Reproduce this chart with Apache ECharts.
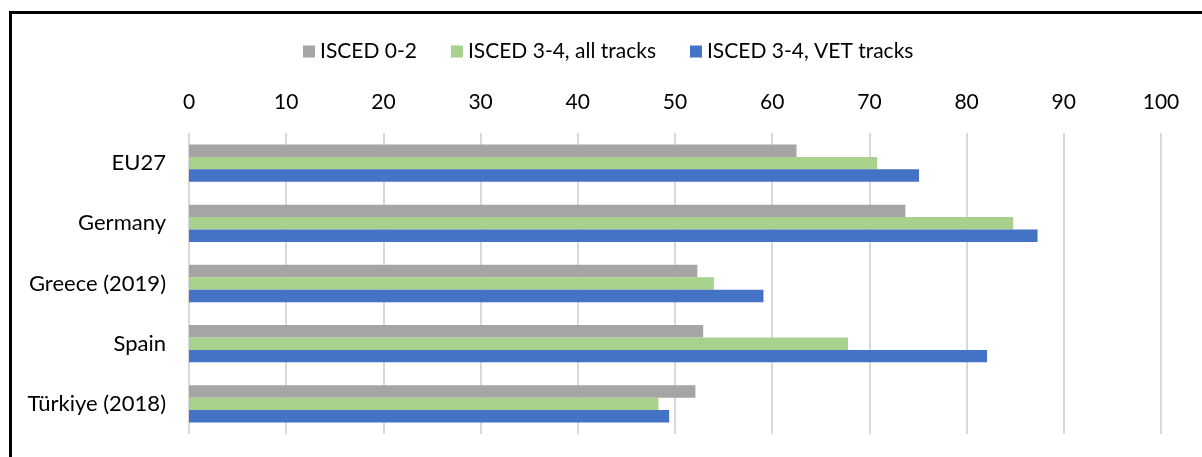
<!DOCTYPE html>
<html lang="en">

<head>
    <meta charset="UTF-8">
    <title>ISCED chart</title>
    <style>
        html, body { margin: 0; padding: 0; background: #fff; }
    </style>
</head>

<body>
    <div id="main" style="width: 1202px;height:457px;"></div>
</body>
<script src="https://cdn.jsdelivr.net/npm/echarts@6/dist/echarts.min.js"></script>

<script>
    var countries = ['EU27', 'Germany', 'Greece (2019)', 'Spain', 'Türkiye (2018)'];
    var isced02 = [62.5, 73.7, 52.3, 52.9, 52.1];
    var isced34All = [70.8, 84.8, 54.0, 67.8, 48.3];
    var isced34Vet = [75.1, 87.3, 59.1, 82.1, 49.4];
    var xTicks = [0, 10, 20, 30, 40, 50, 60, 70, 80, 90, 100];

    var font = 'Lato, "Noto Sans", sans-serif';
    var myChart = echarts.init(document.getElementById('main'));

    function bar(name, data, color) {
        return {
            name: name,
            type: 'bar',
            data: data,
            barGap: '0%',
            barCategoryGap: '38%',
            itemStyle: { color: color },
            animation: false
        };
    }

    myChart.setOption({
        animation: false,
        textStyle: { fontFamily: font },
        graphic: [{
            type: 'rect',
            left: 8,
            top: 10,
            shape: { width: 1250, height: 500 },
            style: { fill: 'none', stroke: '#000', lineWidth: 3 },
            silent: true
        }],
        legend: {
            left: 298,
            top: 36,
            itemWidth: 12,
            itemHeight: 12,
            itemGap: 34,
            icon: 'rect',
            textStyle: { fontSize: 21, color: '#000', fontFamily: font },
            data: ['ISCED 0-2', 'ISCED 3-4, all tracks', 'ISCED 3-4, VET tracks']
        },
        grid: {
            left: 189,
            right: 41,
            top: 133,
            bottom: 23,
            containLabel: false
        },
        xAxis: {
            type: 'value',
            position: 'top',
            min: xTicks[0],
            max: xTicks[xTicks.length - 1],
            interval: xTicks[1] - xTicks[0],
            axisLine: { show: false },
            axisTick: { show: false },
            axisLabel: { fontSize: 21, color: '#000', margin: 20, fontFamily: font },
            splitLine: { lineStyle: { color: '#d9d9d9', width: 2 } }
        },
        yAxis: {
            type: 'category',
            inverse: true,
            data: countries,
            axisLine: { show: false },
            axisTick: { show: false },
            axisLabel: { fontSize: 22, color: '#000', margin: 23, fontFamily: font }
        },
        series: [
            bar('ISCED 0-2', isced02, '#a5a5a5'),
            bar('ISCED 3-4, all tracks', isced34All, '#a9d18e'),
            bar('ISCED 3-4, VET tracks', isced34Vet, '#4472c4')
        ]
    });
</script>

</html>
